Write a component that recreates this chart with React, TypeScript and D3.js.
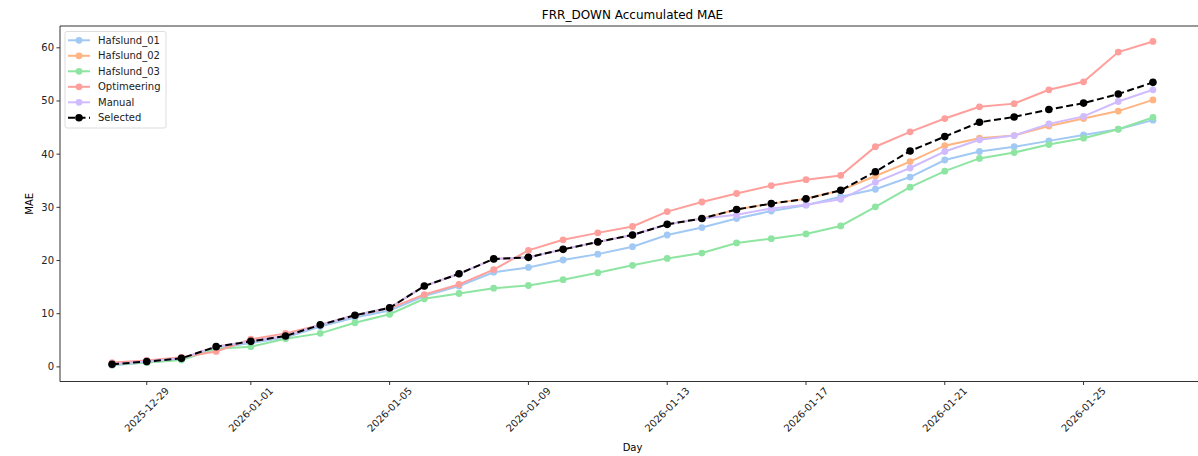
import React from "react";
import * as d3 from "d3";

const days: string[] = [
  "2025-12-28","2025-12-29","2025-12-30","2025-12-31","2026-01-01","2026-01-02","2026-01-03","2026-01-04",
  "2026-01-05","2026-01-06","2026-01-07","2026-01-08","2026-01-09","2026-01-10","2026-01-11","2026-01-12",
  "2026-01-13","2026-01-14","2026-01-15","2026-01-16","2026-01-17","2026-01-18","2026-01-19","2026-01-20",
  "2026-01-21","2026-01-22","2026-01-23","2026-01-24","2026-01-25","2026-01-26","2026-01-27",
];

const hafslund01 = [0.3,0.8,1.4,3.5,4.5,5.5,7.6,9.3,10.6,13.3,15.2,17.8,18.7,20.1,21.2,22.6,24.8,26.2,27.9,29.3,30.4,32.0,33.4,35.7,38.9,40.5,41.4,42.5,43.6,44.7,46.4];
const hafslund02 = [0.5,1.0,1.6,3.8,4.8,5.8,7.9,9.7,11.1,15.2,17.5,20.3,20.6,22.1,23.5,24.8,26.8,27.9,29.6,30.7,31.6,33.2,35.9,38.6,41.6,43.0,43.5,45.3,46.7,48.1,50.2];
const hafslund03 = [0.4,0.8,1.3,3.4,3.8,5.3,6.3,8.3,9.9,12.8,13.8,14.8,15.3,16.4,17.7,19.1,20.4,21.4,23.3,24.1,25.0,26.5,30.1,33.8,36.8,39.2,40.3,41.8,43.0,44.7,46.9];
const optimeering = [0.8,1.2,1.8,2.9,5.2,6.3,7.9,9.7,11.0,13.6,15.5,18.3,21.9,23.9,25.2,26.4,29.2,31.0,32.6,34.1,35.2,36.0,41.4,44.2,46.7,48.9,49.5,52.1,53.6,59.2,61.2];
const manual = [0.5,1.0,1.6,3.8,4.8,5.8,7.9,9.7,11.1,15.2,17.5,20.3,20.6,22.1,23.5,24.8,26.8,27.9,28.6,29.8,30.5,31.5,34.7,37.4,40.5,42.7,43.5,45.7,47.1,49.9,52.1];
const selected = [0.5,1.0,1.6,3.8,4.8,5.8,7.9,9.7,11.1,15.2,17.5,20.3,20.6,22.1,23.5,24.8,26.8,27.9,29.6,30.7,31.6,33.2,36.7,40.6,43.3,46.0,47.0,48.4,49.6,51.3,53.5];

const seriesNames = ["Hafslund_01","Hafslund_02","Hafslund_03","Optimeering","Manual","Selected"];
const seriesColors = ["#a1c9f4","#ffb482","#8de5a1","#ff9f9b","#d0bbff","#000000"];
const seriesValues = [hafslund01, hafslund02, hafslund03, optimeering, manual, selected];

const xTickLabels = ["2025-12-29","2026-01-01","2026-01-05","2026-01-09","2026-01-13","2026-01-17","2026-01-21","2026-01-25"];
const yTicks = [0,10,20,30,40,50,60];

const FONT = "DejaVu Sans, sans-serif";

export default function App() {
  const W = 1198, H = 456;
  const left = 60, right = 1205, top = 26, bottom = 381.5;
  const parse = d3.utcParse("%Y-%m-%d");
  const dates = days.map((d) => parse(d) as Date);
  const dayMs = 86400000;
  const x = d3.scaleUtc()
    .domain([new Date(+dates[0] - 1.5 * dayMs), new Date(+dates[dates.length - 1] + 1.5 * dayMs)])
    .range([left, right]);
  const y = d3.scaleLinear().domain([-2.75, 64.1]).range([bottom, top]);
  const line = d3.line<number>().x((_, i) => x(dates[i])).y((v) => y(v));

  return (
    <svg width={W} height={H} style={{ position: "absolute", left: 0, top: 0, background: "#fff" }} fontFamily={FONT}>
      <rect x={0} y={0} width={W} height={H} fill="#fff" />
      {/* title */}
      <text x={(left + right) / 2} y={19} textAnchor="middle" fontSize={12} fill="#000">FRR_DOWN Accumulated MAE</text>
      {/* series */}
      {seriesValues.map((vals, si) => {
        const isSel = seriesNames[si] === "Selected";
        return (
          <g key={si}>
            <path d={line(vals) || ""} fill="none" stroke={seriesColors[si]} strokeWidth={2}
              strokeDasharray={isSel ? "7,3.5" : undefined} />
            {vals.map((v, i) => (
              <circle key={i} cx={x(dates[i])} cy={y(v)} r={isSel ? 3.8 : 3.4} fill={seriesColors[si]} />
            ))}
          </g>
        );
      })}
      {/* axes spines */}
      <line x1={left} x2={left} y1={top} y2={bottom} stroke="#333" strokeWidth={1} />
      <line x1={left} x2={right} y1={bottom} y2={bottom} stroke="#333" strokeWidth={1} />
      <line x1={left} x2={right} y1={top} y2={top} stroke="#333" strokeWidth={1} />
      <line x1={right} x2={right} y1={top} y2={bottom} stroke="#333" strokeWidth={1} />
      {/* y ticks */}
      {yTicks.map((t) => (
        <g key={t}>
          <line x1={left - 3.5} x2={left} y1={y(t)} y2={y(t)} stroke="#333" />
          <text x={left - 6} y={y(t)} dy="0.35em" textAnchor="end" fontSize={10} fill="#222">{t}</text>
        </g>
      ))}
      {/* x ticks */}
      {xTickLabels.map((t) => {
        const xx = x(parse(t) as Date);
        return (
          <g key={t}>
            <line x1={xx} x2={xx} y1={bottom} y2={bottom + 3.5} stroke="#333" />
            <text transform={`translate(${xx},${bottom + 28}) rotate(-45)`} textAnchor="middle" dominantBaseline="central"
              fontSize={10} fill="#222">{t}</text>
          </g>
        );
      })}
      {/* axis labels */}
      <text x={(left + right) / 2} y={451} textAnchor="middle" fontSize={10} fill="#000">Day</text>
      <text transform={`translate(33,${(top + bottom) / 2}) rotate(-90)`} textAnchor="middle" fontSize={10} fill="#000">MAE</text>
      {/* legend */}
      <g>
        <rect x={65} y={31.5} width={101} height={96.5} rx={2} fill="#fff" fillOpacity={0.8} stroke="#ddd" />
        {seriesNames.map((n, i) => {
          const yy = 40.3 + i * 15.5;
          const isSel = n === "Selected";
          return (
            <g key={n}>
              <line x1={68} x2={90} y1={yy} y2={yy} stroke={seriesColors[i]} strokeWidth={2}
                strokeDasharray={isSel ? "7,3.5" : undefined} />
              <circle cx={79} cy={yy} r={isSel ? 3.8 : 3.4} fill={seriesColors[i]} />
              <text x={98} y={yy} dy="0.35em" fontSize={10} fill="#222">{n}</text>
            </g>
          );
        })}
      </g>
    </svg>
  );
}
